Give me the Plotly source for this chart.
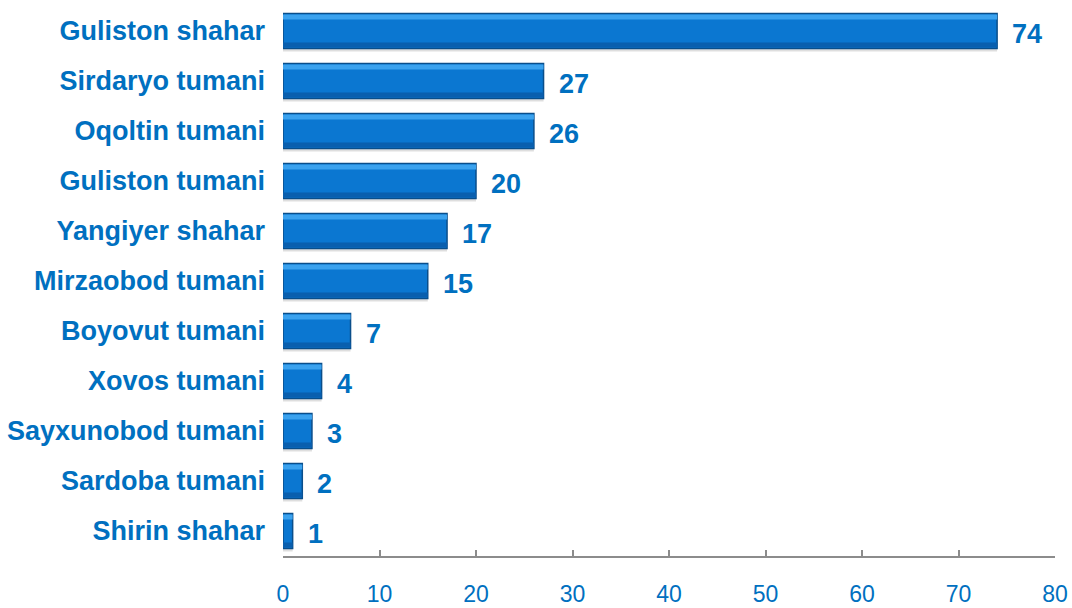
import plotly.graph_objects as go

categories = ["Guliston shahar", "Sirdaryo tumani", "Oqoltin tumani", "Guliston tumani",
              "Yangiyer shahar", "Mirzaobod tumani", "Boyovut tumani", "Xovos tumani",
              "Sayxunobod tumani", "Sardoba tumani", "Shirin shahar"]
values = [74, 27, 26, 20, 17, 15, 7, 4, 3, 2, 1]
x_ticks = [0, 10, 20, 30, 40, 50, 60, 70, 80]

BLUE = "#0070C0"

fig = go.Figure()
# soft shadow
fig.add_trace(go.Bar(x=values, y=categories, orientation="h",
                     marker=dict(color="rgba(0,0,0,0.13)", line=dict(width=0)),
                     width=0.7, offset=-0.41, hoverinfo="skip"))
# main bar
fig.add_trace(go.Bar(x=values, y=categories, orientation="h",
                     marker=dict(color="#0B77D1", line=dict(color="#0A4E8A", width=1.5)),
                     width=0.7, offset=-0.35, hoverinfo="x+y"))
# top highlight
fig.add_trace(go.Bar(x=values, y=categories, orientation="h",
                     marker=dict(color="#3BA2EE", line=dict(width=0)),
                     width=0.1, offset=0.23, hoverinfo="skip"))
# bottom darker bevel
fig.add_trace(go.Bar(x=values, y=categories, orientation="h",
                     marker=dict(color="#0A5FAE", line=dict(width=0)),
                     width=0.1, offset=-0.33, hoverinfo="skip"))

for c, v in zip(categories, values):
    fig.add_annotation(x=v, y=c, text=str(v), showarrow=False, xanchor="left",
                       xshift=13, yshift=-3,
                       font=dict(family="Liberation Sans", size=27, color=BLUE, weight="bold"))

fig.update_layout(
    width=1072, height=608,
    margin=dict(l=283, r=17, t=6, b=52),
    plot_bgcolor="white", paper_bgcolor="white",
    showlegend=False, barmode="overlay",
    xaxis=dict(range=[0, 80], tickvals=x_ticks, showgrid=False, zeroline=False,
               showline=True, linecolor="#8C8C8C", linewidth=2,
               ticks="inside", ticklen=6, tickwidth=2, tickcolor="#8C8C8C",
               ticklabelstandoff=16, automargin=False,
               tickfont=dict(family="Liberation Sans", size=23, color=BLUE)),
    yaxis=dict(categoryorder="array", categoryarray=categories[::-1],
               range=[-0.5, len(categories) - 0.5],
               showgrid=False, zeroline=False, showline=False, ticks="",
               ticklabelstandoff=17, automargin=False,
               tickfont=dict(family="Liberation Sans", size=27, color=BLUE, weight="bold")),
)

fig.write_html("out.html", config={"displayModeBar": False},
               post_script="document.body.style.margin='0';document.body.style.overflow='hidden';")
